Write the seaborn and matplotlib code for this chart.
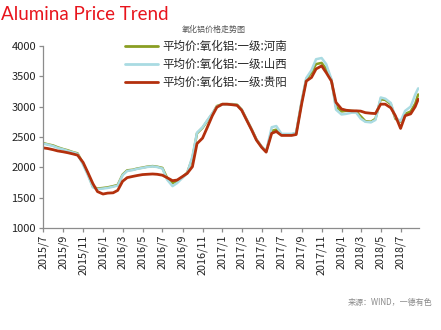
import matplotlib
matplotlib.use("Agg")
import matplotlib.pyplot as plt
import numpy as np
import pandas as pd
import seaborn as sns

# Half-monthly observation dates (1st and 15th), plus the last reading
dates = list(pd.date_range("2015-07-01", "2018-08-15", freq="SMS")) + [pd.Timestamp("2018-08-24")]

# Average alumina price, grade 1 (yuan/ton)
henan = [2400, 2380, 2360, 2330, 2300, 2280, 2250, 2230, 2060, 1900,
         1680, 1650, 1660, 1670, 1690, 1710, 1880, 1950, 1960, 1980,
         1995, 2010, 2020, 2010, 1990, 1830, 1740, 1770, 1840, 1910,
         2150, 2560, 2650, 2760, 2880, 3010, 3040, 3040, 3040, 3030,
         2950, 2800, 2620, 2460, 2340, 2260, 2600, 2620, 2540, 2540,
         2540, 2560, 3080, 3450, 3560, 3700, 3720, 3620, 3440, 3000,
         2920, 2930, 2930, 2920, 2840, 2760, 2750, 2800, 3120, 3110,
         3040, 2800, 2750, 2880, 2920, 3050, 3200]
shanxi = [2390, 2375, 2350, 2320, 2295, 2270, 2245, 2220, 2040, 1880,
          1670, 1640, 1650, 1660, 1680, 1700, 1870, 1940, 1955, 1975,
          1990, 2005, 2015, 2005, 1980, 1800, 1690, 1740, 1830, 1900,
          2180, 2570, 2660, 2770, 2890, 3000, 3035, 3035, 3035, 3025,
          2950, 2800, 2620, 2460, 2340, 2260, 2660, 2680, 2550, 2550,
          2550, 2570, 3100, 3470, 3600, 3780, 3800, 3700, 3450, 2950,
          2870, 2880, 2900, 2900, 2800, 2750, 2740, 2780, 3150, 3130,
          3060, 2820, 2760, 2930, 3000, 3200, 3300]
guiyang = [2320, 2310, 2290, 2270, 2255, 2240, 2220, 2200, 2080, 1920,
           1730, 1600, 1560, 1575, 1580, 1620, 1770, 1830, 1850, 1865,
           1880, 1885, 1890, 1885, 1870, 1830, 1780, 1790, 1850, 1900,
           2010, 2390, 2480, 2650, 2850, 2990, 3040, 3040, 3030, 3020,
           2940, 2790, 2610, 2450, 2330, 2250, 2560, 2590, 2525, 2525,
           2525, 2540, 3050, 3420, 3480, 3620, 3670, 3560, 3420, 3070,
           2960, 2940, 2930, 2930, 2925, 2900, 2890, 2885, 3040, 3040,
           2980, 2850, 2640, 2850, 2880, 3000, 3120]

series_names = ["平均价:氧化铝:一级:河南", "平均价:氧化铝:一级:山西", "平均价:氧化铝:一级:贵阳"]
series_colors = ["#8a9e22", "#a9dbe2", "#b3300d"]
series_widths = [1.8, 1.8, 2.0]

tick_labels = ["2015/7", "2015/9", "2015/11", "2016/1", "2016/3", "2016/5",
               "2016/7", "2016/9", "2016/11", "2017/1", "2017/3", "2017/5",
               "2017/7", "2017/9", "2017/11", "2018/1", "2018/3", "2018/5", "2018/7"]
y_ticks = [1000, 1500, 2000, 2500, 3000, 3500, 4000]

frames = []
for name, vals in zip(series_names, [henan, shanxi, guiyang]):
    frames.append(pd.DataFrame({"date": dates, "price": vals, "series": name}))
df = pd.concat(frames, ignore_index=True)

sns.set_theme(style="white")
plt.rcParams["font.family"] = ["Noto Sans CJK SC", "DejaVu Sans"]

fig = plt.figure(figsize=(4.41, 3.30), dpi=100)
ax = fig.add_axes([0.0975, 0.309, 0.853, 0.552])

for name, color, lw in zip(series_names, series_colors, series_widths):
    sns.lineplot(data=df[df["series"] == name], x="date", y="price",
                 color=color, linewidth=lw, ax=ax, label=name)

ax.set_ylim(1000, 4000)
ax.set_yticks(y_ticks)
ax.set_yticklabels([str(v) for v in y_ticks], fontsize=8, color="#222222",
                   fontweight="medium")
ax.set_xlim(pd.Timestamp("2015-07-01"), pd.Timestamp("2018-08-27"))
tick_dates = pd.date_range("2015-07-01", "2018-07-01", freq="2MS")
ax.set_xticks(tick_dates)
ax.set_xticklabels(tick_labels, rotation=90, fontsize=7.8, color="#222222",
                   fontweight="medium")
ax.set_xlabel("")
ax.set_ylabel("")

for side in ["top", "right"]:
    ax.spines[side].set_visible(False)
for side in ["left", "bottom"]:
    ax.spines[side].set_color("#8c8c8c")
    ax.spines[side].set_linewidth(0.9)
ax.tick_params(axis="both", which="major", direction="out", length=3,
               width=0.9, color="#8c8c8c", pad=2,
               bottom=True, left=True)

leg = ax.legend(loc="upper left", bbox_to_anchor=(0.205, 1.06),
                frameon=False, fontsize=8.3, handlelength=2.9,
                handletextpad=0.35, labelspacing=0.45, borderaxespad=0)
for h in leg.get_lines():
    h.set_linewidth(2.0)

fig.text(0.003, 0.955, "Alumina Price Trend", color="#e8141c", fontsize=13.5,
         family=["Lato", "DejaVu Sans"], va="center", ha="left")
fig.text(0.485, 0.912, "氧化铝价格走势图", color="#555555", fontsize=5.8,
         ha="center", va="center")
fig.text(0.98, 0.083, "来源：WIND，一德有色", color="#8a8a8a", fontsize=5.8,
         ha="right", va="center")

fig.savefig("out.png", dpi=100, facecolor="white")
